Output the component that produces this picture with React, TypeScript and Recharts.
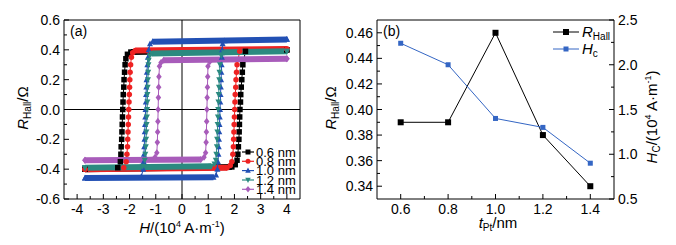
import React from 'react';
import { LineChart, Line, XAxis, YAxis, ReferenceLine, ReferenceArea } from 'recharts';

type Pt = [number, number];

// (a) R_Hall vs H loops. x: H (10^4 A/m), y: R_Hall (ohm)
const thickness = ['0.6 nm', '0.8 nm', '1.0 nm', '1.2 nm', '1.4 nm'];

const desc06: Pt[] = [
  [4.0, 0.40], [-1.95, 0.385], [-2.08, 0.37], [-2.14, 0.34], [-2.17, 0.30], [-2.19, 0.25],
  [-2.21, 0.20], [-2.22, 0.15], [-2.24, 0.10], [-2.25, 0.05], [-2.26, 0.0], [-2.27, -0.05],
  [-2.28, -0.10], [-2.29, -0.15], [-2.30, -0.20], [-2.32, -0.25], [-2.33, -0.30], [-2.35, -0.35],
  [-2.45, -0.39], [-3.7, -0.40],
];
const asc06: Pt[] = [
  [-3.7, -0.40], [1.9, -0.385], [2.03, -0.37], [2.1, -0.34], [2.13, -0.30], [2.15, -0.25],
  [2.17, -0.20], [2.18, -0.15], [2.19, -0.10], [2.2, -0.05], [2.21, 0.0], [2.23, 0.05],
  [2.24, 0.10], [2.26, 0.15], [2.28, 0.20], [2.3, 0.25], [2.32, 0.30], [2.42, 0.39], [4.0, 0.40],
];
const desc08: Pt[] = [
  [4.0, 0.405], [-1.78, 0.395], [-1.88, 0.38], [-1.93, 0.35], [-1.96, 0.30], [-1.98, 0.25],
  [-1.99, 0.20], [-2.0, 0.15], [-2.01, 0.10], [-2.02, 0.05], [-2.03, 0.0], [-2.04, -0.05],
  [-2.05, -0.10], [-2.06, -0.15], [-2.07, -0.20], [-2.08, -0.25], [-2.1, -0.30], [-2.13, -0.35],
  [-2.22, -0.39], [-3.7, -0.40],
];
const asc08: Pt[] = [
  [-3.7, -0.40], [1.72, -0.39], [1.84, -0.375], [1.9, -0.35], [1.94, -0.30], [1.96, -0.25],
  [1.97, -0.20], [1.98, -0.15], [1.99, -0.10], [2.0, -0.05], [2.01, 0.0], [2.02, 0.05],
  [2.03, 0.10], [2.05, 0.15], [2.06, 0.20], [2.08, 0.25], [2.1, 0.30], [2.2, 0.39], [4.0, 0.405],
];
const desc10: Pt[] = [
  [4.0, 0.47], [-1.12, 0.455], [-1.22, 0.44], [-1.27, 0.40], [-1.3, 0.35], [-1.32, 0.30],
  [-1.34, 0.25], [-1.35, 0.20], [-1.36, 0.15], [-1.37, 0.10], [-1.38, 0.05], [-1.39, 0.0],
  [-1.4, -0.05], [-1.41, -0.10], [-1.42, -0.15], [-1.43, -0.20], [-1.44, -0.25], [-1.45, -0.30],
  [-1.46, -0.35], [-1.48, -0.40], [-1.55, -0.45], [-3.7, -0.46],
];
const asc10: Pt[] = [
  [-3.7, -0.46], [1.2, -0.455], [1.3, -0.44], [1.35, -0.40], [1.37, -0.35], [1.39, -0.30],
  [1.4, -0.25], [1.41, -0.20], [1.42, -0.15], [1.43, -0.10], [1.44, -0.05], [1.45, 0.0],
  [1.46, 0.05], [1.47, 0.10], [1.48, 0.15], [1.49, 0.20], [1.5, 0.25], [1.51, 0.30],
  [1.52, 0.35], [1.53, 0.40], [1.55, 0.44], [1.62, 0.46], [4.0, 0.47],
];
const desc12: Pt[] = [
  [4.0, 0.39], [-1.15, 0.375], [-1.23, 0.36], [-1.27, 0.33], [-1.28, 0.30], [-1.29, 0.25],
  [-1.3, 0.20], [-1.31, 0.15], [-1.32, 0.10], [-1.32, 0.05], [-1.33, 0.0], [-1.34, -0.05],
  [-1.35, -0.10], [-1.36, -0.15], [-1.37, -0.20], [-1.38, -0.25], [-1.4, -0.30], [-1.42, -0.34],
  [-1.5, -0.38], [-3.7, -0.39],
];
const asc12: Pt[] = [
  [-3.7, -0.39], [1.12, -0.38], [1.24, -0.365], [1.29, -0.34], [1.31, -0.30], [1.33, -0.25],
  [1.34, -0.20], [1.35, -0.15], [1.36, -0.10], [1.37, -0.05], [1.38, 0.0], [1.39, 0.05],
  [1.4, 0.10], [1.41, 0.15], [1.42, 0.20], [1.43, 0.25], [1.45, 0.30], [1.5, 0.36],
  [1.6, 0.38], [4.0, 0.39],
];
const desc14: Pt[] = [
  [4.0, 0.34], [-0.7, 0.33], [-0.8, 0.315], [-0.86, 0.29], [-0.88, 0.22], [-0.89, 0.15],
  [-0.9, 0.08], [-0.91, 0.0], [-0.92, -0.08], [-0.93, -0.15], [-0.94, -0.22], [-0.96, -0.29],
  [-1.03, -0.32], [-3.7, -0.34],
];
const asc14: Pt[] = [
  [-3.7, -0.34], [0.72, -0.335], [0.84, -0.32], [0.9, -0.29], [0.92, -0.22], [0.93, -0.15],
  [0.94, -0.08], [0.95, 0.0], [0.96, 0.08], [0.97, 0.15], [0.98, 0.22], [0.99, 0.29],
  [1.06, 0.32], [4.0, 0.34],
];
const descLoops = [desc06, desc08, desc10, desc12, desc14];
const ascLoops = [asc06, asc08, asc10, asc12, asc14];

// (b) vs Pt thickness
const tPt = [0.6, 0.8, 1.0, 1.2, 1.4];
const rHall = [0.39, 0.39, 0.46, 0.38, 0.34];
const hc = [2.24, 2.0, 1.4, 1.3, 0.9];

// ticks
const hMajor = [-4, -3, -2, -1, 0, 1, 2, 3, 4];
const hMinor = [-3.5, -2.5, -1.5, -0.5, 0.5, 1.5, 2.5, 3.5];
const rMajor = [-0.6, -0.4, -0.2, 0, 0.2, 0.4, 0.6];
const rMinor = [-0.5, -0.3, -0.1, 0.1, 0.3, 0.5];
const tMajor = [0.6, 0.8, 1.0, 1.2, 1.4];
const tMinor = [0.7, 0.9, 1.1, 1.3];
const rhMajor = [0.34, 0.36, 0.38, 0.40, 0.42, 0.44, 0.46];
const rhMinor = [0.35, 0.37, 0.39, 0.41, 0.43, 0.45];
const hcMajor = [0.5, 1.0, 1.5, 2.0, 2.5];
const hcMinor = [0.75, 1.25, 1.75, 2.25];

const FONT = '"Liberation Sans", Arial, Helvetica, sans-serif';
const loopColors = ['#000000', '#ee2222', '#2250b4', '#2b8a80', '#a85cba'];
const loopShapes = ['square', 'circle', 'up', 'down', 'diamond'];
const BLUE = '#3466c4';

const toPts = (a: Pt[]) => a.map(([x, y]) => ({ x, y }));

function Marker({ shape, cx, cy, color, s }: { shape: string; cx: number; cy: number; color: string; s: number }) {
  if (cx == null || cy == null) return null;
  if (shape === 'square') return <rect x={cx - s / 2} y={cy - s / 2} width={s} height={s} fill={color} />;
  if (shape === 'circle') return <circle cx={cx} cy={cy} r={s / 2} fill={color} />;
  if (shape === 'up')
    return <polygon points={`${cx},${cy - s * 0.6} ${cx + s * 0.55},${cy + s * 0.45} ${cx - s * 0.55},${cy + s * 0.45}`} fill={color} />;
  if (shape === 'down')
    return <polygon points={`${cx},${cy + s * 0.6} ${cx + s * 0.55},${cy - s * 0.45} ${cx - s * 0.55},${cy - s * 0.45}`} fill={color} />;
  return <polygon points={`${cx},${cy - s * 0.65} ${cx + s * 0.5},${cy} ${cx},${cy + s * 0.65} ${cx - s * 0.5},${cy}`} fill={color} />;
}

const dotFor = (shape: string, color: string, s: number) => (p: any) => (
  <Marker key={`d${p.index}`} shape={shape} cx={p.cx} cy={p.cy} color={color} s={s} />
);

const makeTick = (side: 'bottom' | 'left' | 'right', majors: number[], digits: number) => (props: any) => {
  const { x, y, payload, index } = props;
  const v = payload.value as number;
  const major = majors.some((m) => Math.abs(m - v) < 1e-9);
  const len = major ? 5 : 3;
  const label = v.toFixed(digits);
  const txt = { fontSize: 14, fontFamily: FONT, fill: '#000' };
  if (side === 'bottom')
    return (
      <g key={`t${index}`}>
        <line x1={x} x2={x} y1={y} y2={y - len} stroke="#000" />
        {major && <text x={x} y={y + 15} textAnchor="middle" {...txt}>{label}</text>}
      </g>
    );
  if (side === 'left')
    return (
      <g key={`t${index}`}>
        <line x1={x} x2={x + len} y1={y} y2={y} stroke="#000" />
        {major && <text x={x - 4} y={y + 5} textAnchor="end" {...txt}>{label}</text>}
      </g>
    );
  return (
    <g key={`t${index}`}>
      <line x1={x} x2={x - len} y1={y} y2={y} stroke="#000" />
      {major && <text x={x + 4} y={y + 5} textAnchor="start" {...txt}>{label}</text>}
    </g>
  );
};

const rowsB = tPt.map((t, i) => ({ t, r: rHall[i], h: hc[i] }));

const legendRowsA = [152, 161.3, 170.6, 180, 189.3];

export default function App() {
  return (
    <div style={{ position: 'absolute', left: 0, top: 0, width: 676, height: 245, background: '#fff' }}>
      <div style={{ position: 'absolute', left: 0, top: 0 }}>
        <LineChart width={320} height={245} margin={{ top: 20, right: 20, bottom: 0, left: 0 }}>
          <XAxis
            type="number" dataKey="x" domain={[-4.5, 4.5]} allowDataOverflow height={46}
            ticks={[...hMajor, ...hMinor]} interval={0} tickSize={0} tickMargin={0}
            axisLine={false} tickLine={false} tick={makeTick('bottom', hMajor, 0)}
          />
          <YAxis
            type="number" dataKey="y" domain={[-0.6, 0.6]} allowDataOverflow width={64}
            ticks={[...rMajor, ...rMinor]} interval={0} tickSize={0} tickMargin={0}
            axisLine={false} tickLine={false} tick={makeTick('left', rMajor, 1)}
          />
          <ReferenceLine x={0} stroke="#000" strokeWidth={1} />
          <ReferenceLine y={0} stroke="#000" strokeWidth={1} />
          {descLoops.map((d, i) => [
            <Line key={`bt${i}`} data={toPts([d[0], d[1]])} dataKey="y" stroke={loopColors[i]} strokeWidth={6}
              dot={false} activeDot={false} isAnimationActive={false} />,
            <Line key={`bb${i}`} data={toPts([ascLoops[i][0], ascLoops[i][1]])} dataKey="y" stroke={loopColors[i]} strokeWidth={6}
              dot={false} activeDot={false} isAnimationActive={false} />,
            <Line key={`l${i}`} data={toPts([...d, ...ascLoops[i]])} dataKey="y" stroke={loopColors[i]} strokeWidth={1}
              dot={dotFor(loopShapes[i], loopColors[i], 5.5)} activeDot={false} isAnimationActive={false} />,
          ])}
          <ReferenceArea x1={-4.5} x2={4.5} y1={-0.6} y2={0.6} fill="none" fillOpacity={0} stroke="#000" strokeWidth={1} />
        </LineChart>
      </div>
      <div style={{ position: 'absolute', left: 320, top: 0 }}>
        <LineChart width={356} height={245} data={rowsB} margin={{ top: 20, right: 0, bottom: 0, left: 0 }}>
          <XAxis
            type="number" dataKey="t" domain={[0.5, 1.5]} allowDataOverflow height={46}
            ticks={[...tMajor, ...tMinor]} interval={0} tickSize={0} tickMargin={0}
            axisLine={false} tickLine={false} tick={makeTick('bottom', tMajor, 1)}
          />
          <YAxis
            yAxisId="l" type="number" domain={[0.33, 0.47]} allowDataOverflow width={57}
            ticks={[...rhMajor, ...rhMinor]} interval={0} tickSize={0} tickMargin={0}
            axisLine={false} tickLine={false} tick={makeTick('left', rhMajor, 2)}
          />
          <YAxis
            yAxisId="r" orientation="right" type="number" domain={[0.5, 2.5]} allowDataOverflow width={62}
            ticks={[...hcMajor, ...hcMinor]} interval={0} tickSize={0} tickMargin={0}
            axisLine={false} tickLine={false} tick={makeTick('right', hcMajor, 1)}
          />
          <Line yAxisId="l" dataKey="r" stroke="#000" strokeWidth={1} dot={dotFor('square', '#000', 6)}
            activeDot={false} isAnimationActive={false} />
          <Line yAxisId="r" dataKey="h" stroke={BLUE} strokeWidth={1} dot={dotFor('square', BLUE, 5)}
            activeDot={false} isAnimationActive={false} />
          <ReferenceArea yAxisId="l" x1={0.5} x2={1.5} y1={0.33} y2={0.47} fill="none" fillOpacity={0} stroke="#000" strokeWidth={1} />
        </LineChart>
      </div>
      <svg width={676} height={245} style={{ position: 'absolute', left: 0, top: 0, pointerEvents: 'none' }}
        fontFamily={FONT} fill="#000">
        <text x={70} y={36} fontSize={14}>(a)</text>
        <text x={383} y={36} fontSize={14}>(b)</text>
        <text transform="translate(28,108) rotate(-90)" textAnchor="middle" fontSize={15}>
          <tspan fontStyle="italic">R</tspan>
          <tspan fontSize={10} dy={3}>Hall</tspan>
          <tspan dy={-3}>/Ω</tspan>
        </text>
        <text transform="translate(336,108) rotate(-90)" textAnchor="middle" fontSize={15}>
          <tspan fontStyle="italic">R</tspan>
          <tspan fontSize={10} dy={3}>Hall</tspan>
          <tspan dy={-3}>/Ω</tspan>
        </text>
        <text transform="translate(657,117) rotate(-90)" textAnchor="middle" fontSize={15}>
          <tspan fontStyle="italic">H</tspan>
          <tspan fontSize={10} dy={3}>C</tspan>
          <tspan dy={-3}>/(10</tspan>
          <tspan fontSize={9} dy={-6}>4</tspan>
          <tspan dy={6}> A·m</tspan>
          <tspan fontSize={9} dy={-6}>-1</tspan>
          <tspan dy={6}>)</tspan>
        </text>
        <text x={182} y={233} textAnchor="middle" fontSize={15}>
          <tspan fontStyle="italic">H</tspan>
          <tspan>/(10</tspan>
          <tspan fontSize={9} dy={-6}>4</tspan>
          <tspan dy={6}> A·m</tspan>
          <tspan fontSize={9} dy={-6}>-1</tspan>
          <tspan dy={6}>)</tspan>
        </text>
        <text x={498} y={228} textAnchor="middle" fontSize={15}>
          <tspan fontStyle="italic">t</tspan>
          <tspan fontSize={10} dy={3}>Pt</tspan>
          <tspan dy={-3}>/nm</tspan>
        </text>
        {thickness.map((name, i) => (
          <g key={name}>
            <line x1={242} x2={254} y1={legendRowsA[i]} y2={legendRowsA[i]} stroke={loopColors[i]} strokeWidth={1.2} />
            <Marker shape={loopShapes[i]} cx={248} cy={legendRowsA[i]} color={loopColors[i]} s={5} />
            <text x={256} y={legendRowsA[i] + 4.5} fontSize={13}>{name}</text>
          </g>
        ))}
        <line x1={553} x2={579} y1={32} y2={32} stroke="#000" />
        <Marker shape="square" cx={566} cy={32} color="#000" s={6} />
        <text x={582} y={37} fontSize={15}>
          <tspan fontStyle="italic">R</tspan>
          <tspan fontSize={10} dy={3}>Hall</tspan>
        </text>
        <line x1={553} x2={579} y1={49} y2={49} stroke={BLUE} />
        <Marker shape="square" cx={566} cy={49} color={BLUE} s={5} />
        <text x={582} y={54} fontSize={15}>
          <tspan fontStyle="italic">H</tspan>
          <tspan fontSize={10} dy={3}>c</tspan>
        </text>
      </svg>
    </div>
  );
}
